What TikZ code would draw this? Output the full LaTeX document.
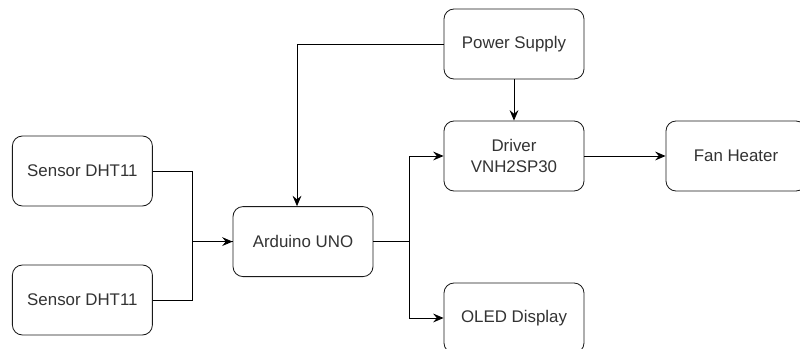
\documentclass[tikz,border=0pt]{standalone}
\usepackage{fontspec}
\setmainfont{Liberation Sans}
\usetikzlibrary{arrows.meta,calc,positioning}
\definecolor{ink}{HTML}{333333}
\definecolor{boxborder}{HTML}{1A1A1A}
\definecolor{wireink}{HTML}{000000}

\begin{document}
\begin{tikzpicture}[
  font=\fontsize{12pt}{14.5pt}\selectfont,
  >={Stealth[length=2.6mm, width=2.2mm, inset=0.9mm]},
  block/.style={draw=boxborder, fill=white, rounded corners=2.5mm, text=ink,
    align=center, minimum width=35mm, minimum height=17.5mm, inner sep=2pt,
    line width=0.6pt},
  flow/.style={->, draw=wireink, line width=0.6pt},
  wire/.style={draw=wireink, line width=0.6pt}
]
\useasboundingbox (0,0) rectangle (200mm,-87.25mm);

\node[block] (dht1) at (20.6mm,-42.75mm) {Sensor DHT11};
\node[block] (dht2) at (20.6mm,-75mm) {Sensor DHT11};
\node[block] (uno) at (75.75mm,-60.4mm) {Arduino UNO};
\node[block] (psu) at (128.5mm,-11mm) {Power Supply};
\node[block] (drv) at (128.5mm,-39mm) {Driver\\VNH2SP30};
\node[block] (fan) at (184mm,-39mm) {Fan Heater};
\node[block] (oled) at (128.5mm,-79.5mm) {OLED Display};

% sensors into the board
\draw[flow] (dht1.east) -- ++(10mm,0) |- (uno.west);
\draw[wire] (dht2.east) -- ++(10mm,0) |- (uno.west);

% board outputs
\draw[flow] (uno.east) -- ++(8.9mm,0) |- (drv.west);
\draw[flow] (uno.east) -- ++(8.9mm,0) |- (oled.west);
\draw[flow] (drv) -- (fan);

% power
\draw[flow] (psu.west) -| ($(uno.north)+(-1.5mm,0)$);
\draw[flow] (psu) -- (drv);
\end{tikzpicture}
\end{document}
